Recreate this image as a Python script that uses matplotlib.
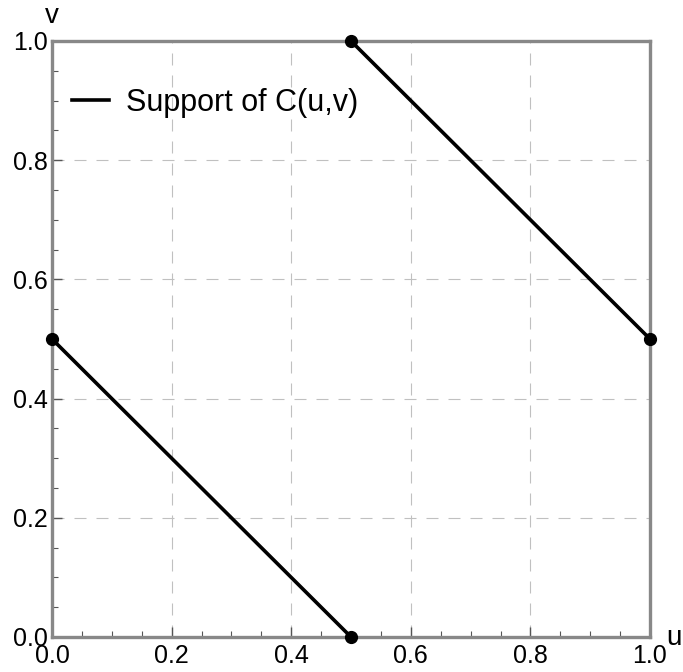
import matplotlib.pyplot as plt
import numpy as np

plt.rcParams['font.family'] = ['Liberation Sans', 'DejaVu Sans']

# support segments of the copula
seg1_u = [0.0, 0.5]
seg1_v = [0.5, 0.0]
seg2_u = [0.5, 1.0]
seg2_v = [1.0, 0.5]
ticks = [0.0, 0.2, 0.4, 0.6, 0.8, 1.0]
tick_labels = ['0.0', '0.2', '0.4', '0.6', '0.8', '1.0']

fig = plt.figure(figsize=(6.83, 6.72), dpi=100)
ax = fig.add_axes([52 / 683, 1 - 637 / 672, 598 / 683, 596 / 672])

ax.plot(seg1_u, seg1_v, color='black', lw=2.6, label='Support of C(u,v)', zorder=3)
ax.plot(seg2_u, seg2_v, color='black', lw=2.6, zorder=3)
ax.plot(seg1_u + seg2_u, seg1_v + seg2_v, 'o', color='black', ms=8.5,
        clip_on=False, zorder=4)

ax.set_xlim(0, 1)
ax.set_ylim(0, 1)
ax.set_xticks(ticks)
ax.set_xticklabels(tick_labels)
ax.set_yticks(ticks)
ax.set_yticklabels(tick_labels)
ax.set_xticks(np.arange(0, 1.001, 0.05), minor=True)
ax.set_yticks(np.arange(0, 1.001, 0.05), minor=True)
ax.tick_params(which='major', direction='in', length=7, width=1, color='#555555',
               labelsize=18)
ax.tick_params(axis='x', which='major', pad=5)
ax.tick_params(axis='y', which='major', pad=3)
ax.tick_params(which='minor', direction='in', length=4, width=0.8, color='#555555')
ax.grid(True, which='major', ls=(0, (10.8, 9)), color='#c0c0c0', lw=0.8)

for s in ax.spines.values():
    s.set_color('#888888')
    s.set_linewidth(2.4)

ax.text(1.028, -0.013, 'u', transform=ax.transAxes, fontsize=20, ha='left', va='baseline')
ax.text(-0.012, 1.030, 'v', transform=ax.transAxes, fontsize=20, ha='left', va='baseline')

ax.legend(loc='upper left', bbox_to_anchor=(-0.012, 0.968), frameon=False,
          fontsize=22, handlelength=1.2, handletextpad=0.55)

fig.savefig('out.png', dpi=100)
